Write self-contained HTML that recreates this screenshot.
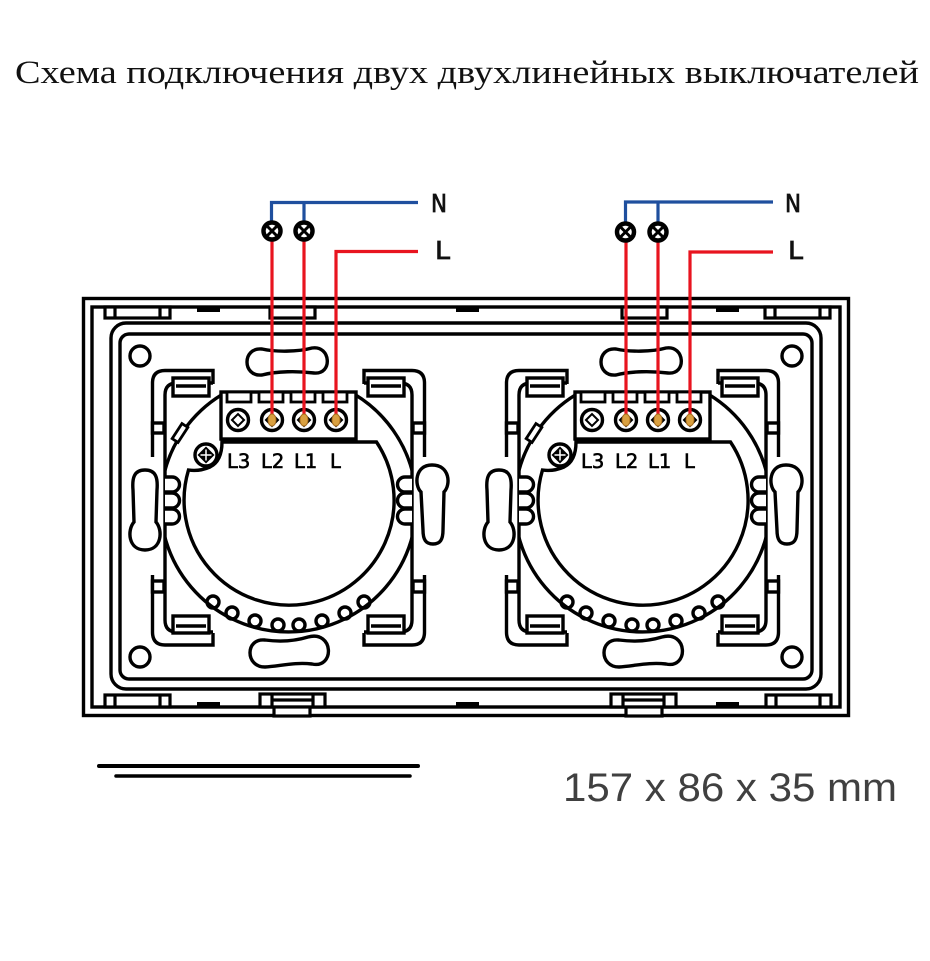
<!DOCTYPE html>
<html>
<head>
<meta charset="utf-8">
<style>
  html,body{margin:0;padding:0;background:#fff;}
  svg{display:block;}
</style>
</head>
<body>
<svg width="930" height="961" viewBox="0 0 930 961" xmlns="http://www.w3.org/2000/svg">
<defs>
  <clipPath id="rc"><rect x="165" y="300" width="247" height="400"/></clipPath>
  <g id="half" fill="#fff" stroke="#000" stroke-width="3.4">
    <path fill="none" d="M152.5 457 V383 Q152.5 370.5 165 370.5 H213 V384"/>
    <path fill="none" d="M152.5 575 V632 Q152.5 645 165 645 H213 V633"/>
    <path fill="none" d="M213 383 H177 Q165 383 165 395 V620 Q165 632 177 632 H213"/>
    <rect x="173" y="378" width="36" height="18"/>
    <line x1="176" y1="386" x2="206" y2="386"/>
    <rect x="173" y="616" width="36" height="17"/>
    <line x1="176" y1="626" x2="206" y2="626"/>
    <rect x="152.5" y="423" width="11.5" height="10"/>
    <rect x="152.5" y="581" width="11.5" height="11"/>
    <path d="M165 477 H172 A7.5 7.5 0 0 1 172 492 H165 M165 493 H172 A7.5 7.5 0 0 1 172 508 H165 M165 509 H172 A7.5 7.5 0 0 1 172 524 H165"/>
  </g>
  <g id="sw" stroke="#000" stroke-width="3.4" fill="#fff">
    <use href="#half"/>
    <use href="#half" transform="matrix(-1 0 0 1 577 0)"/>
    <!-- side slots -->
    <path d="M145 470 C156 470 158 478 157 490 L156 522 C163 530 162 550 145 550 C128 550 127 530 134 522 L133 490 C132 478 134 470 145 470 Z"/>
    <path d="M432 465 C450 465 451 485 444 492 L443 530 C443 540 440 544 433 544 C426 544 423 540 423 530 L421 492 C414 485 415 465 432 465 Z"/>
    <!-- bottom bumps -->
    <circle cx="213" cy="602" r="6"/>
    <circle cx="232" cy="613" r="6"/>
    <circle cx="255" cy="621" r="6"/>
    <circle cx="278" cy="625" r="6"/>
    <circle cx="299" cy="625" r="6"/>
    <circle cx="322" cy="621" r="6"/>
    <circle cx="345" cy="613" r="6"/>
    <circle cx="364" cy="602" r="6"/>
    <!-- outer ring -->
    <path fill="none" clip-path="url(#rc)" d="M355 394.6 A128 128 0 1 1 222 394.6"/>
    <!-- inner shape -->
    <path fill="none" d="M222 442 H376.5 A105 105 0 1 1 188.5 470 C195 471 203 470 210 467 C218 463 222 455 222 442 Z"/>
    <!-- slanted bar -->
    <rect x="-9" y="-3.5" width="18" height="7" stroke-width="2.8" transform="translate(180 433) rotate(-57)"/>
    <!-- small screw -->
    <circle cx="206" cy="455" r="11"/>
    <path d="M197.5 455 L206 446.5 L214.5 455 L206 463.5 Z" fill="#000" stroke="none"/>
    <path d="M206 449.5 V460.5 M200.5 455 H211.5" stroke="#fff" stroke-width="1.5"/>
    <!-- terminal block -->
    <rect x="221" y="392" width="135" height="47"/>
    <rect x="227" y="392" width="24" height="10" stroke-width="2.8"/>
    <rect x="259" y="392" width="24" height="10" stroke-width="2.8"/>
    <rect x="291" y="392" width="24" height="10" stroke-width="2.8"/>
    <rect x="323" y="392" width="24" height="10" stroke-width="2.8"/>
    <circle cx="238" cy="420" r="10.5"/>
    <circle cx="272" cy="420" r="10.5"/>
    <circle cx="304" cy="420" r="10.5"/>
    <circle cx="336" cy="420" r="10.5"/>
    <path fill="none" stroke-width="2" d="M232 420 L238 414 L244 420 L238 426 Z M266 420 L272 414 L278 420 L272 426 Z M298 420 L304 414 L310 420 L304 426 Z M330 420 L336 414 L342 420 L336 426 Z"/>
    <!-- pills -->
    <path d="M262 349 C275 352 298 352 312 348 C331 345 333 375 314 373 C298 371 277 371 262 375 C242 377 242 347 262 349 Z"/>
    <path d="M265 640 C280 642 295 641 308 637 C334 630 335 669 312 664 C295 662 280 666 265 667 C245 667 245 638 265 640 Z"/>
  </g>
</defs>

<!-- title -->
<text x="15" y="83" font-family="'Liberation Serif','DejaVu Serif',serif" font-size="33" fill="#111" textLength="904" lengthAdjust="spacingAndGlyphs">Схема подключения двух двухлинейных выключателей</text>

<!-- frame -->
<g fill="none" stroke="#000" stroke-width="3.4">
  <rect x="83.5" y="298.5" width="765" height="417"/>
  <rect x="92" y="307" width="748" height="400"/>
  <rect x="111" y="323" width="710" height="366" rx="15"/>
  <rect x="120" y="334" width="692" height="345" rx="9"/>
  <circle cx="140" cy="356" r="10"/>
  <circle cx="140" cy="657" r="10"/>
  <circle cx="792" cy="356" r="10"/>
  <circle cx="792" cy="657" r="10"/>
</g>
<g fill="#fff" stroke="#000" stroke-width="3.2">
  <!-- top tabs -->
  <rect x="105" y="307" width="65" height="11"/>
  <path d="M115 307 V318 M160 307 V318"/>
  <rect x="270" y="307" width="45" height="11"/>
  <rect x="622" y="307" width="45" height="11"/>
  <rect x="765" y="307" width="65" height="11"/>
  <path d="M775 307 V318 M820 307 V318"/>
  <!-- bottom tabs -->
  <rect x="105" y="695" width="65" height="12"/>
  <path d="M115 695 V707 M160 695 V707"/>
  <rect x="260" y="694" width="65" height="13"/>
  <path d="M272 694 V707 M313 694 V707 M272 700 H313"/>
  <rect x="274" y="707" width="36" height="9"/>
  <rect x="611" y="694" width="65" height="13"/>
  <path d="M623 694 V707 M664 694 V707 M623 700 H664"/>
  <rect x="626" y="707" width="36" height="9"/>
  <rect x="766" y="695" width="65" height="12"/>
  <path d="M776 695 V707 M820 695 V707"/>
</g>
<g fill="#000">
  <rect x="197" y="307" width="23" height="5"/>
  <rect x="456" y="307" width="23" height="5"/>
  <rect x="716" y="307" width="23" height="5"/>
  <rect x="197" y="702" width="23" height="5"/>
  <rect x="456" y="702" width="23" height="5"/>
  <rect x="716" y="702" width="23" height="5"/>
</g>

<!-- switches -->
<use href="#sw"/>
<use href="#sw" transform="translate(354 0)"/>

<!-- terminal labels -->
<g font-family="'DejaVu Sans','Liberation Sans',sans-serif" font-size="19.5" fill="#000" stroke="#000" stroke-width="0.6">
  <text x="227" y="468">L3</text>
  <text x="261" y="468">L2</text>
  <text x="294" y="468">L1</text>
  <text x="330" y="468">L</text>
  <text x="581" y="468">L3</text>
  <text x="615" y="468">L2</text>
  <text x="648" y="468">L1</text>
  <text x="684" y="468">L</text>
</g>

<!-- wiring -->
<g fill="none" stroke-width="3.2">
  <path stroke="#1f4f9e" d="M418 202.5 H271.5 V223 M304 202.5 V223"/>
  <path stroke="#1f4f9e" d="M773 202 H625.5 V223 M658 202 V223"/>
  <path stroke="#e8141f" d="M272 239 V418 M304 239 V418 M418 251.5 H336 V418"/>
  <path stroke="#e8141f" d="M626 240 V418 M658 240 V418 M773 252 H690 V418"/>
</g>
<!-- wire ends in screws -->
<g fill="#d9a040" stroke="#a86d1c" stroke-width="1">
  <ellipse cx="272" cy="420" rx="4" ry="6"/>
  <ellipse cx="304" cy="420" rx="4" ry="6"/>
  <ellipse cx="336" cy="420" rx="4" ry="6"/>
  <ellipse cx="626" cy="420" rx="4" ry="6"/>
  <ellipse cx="658" cy="420" rx="4" ry="6"/>
  <ellipse cx="690" cy="420" rx="4" ry="6"/>
</g>
<!-- lamps -->
<g fill="#fff" stroke="#000">
  <g stroke-width="4.5">
    <circle cx="272" cy="231" r="8.5"/>
    <circle cx="304" cy="231" r="8.5"/>
    <circle cx="625.5" cy="232" r="8.5"/>
    <circle cx="658" cy="232" r="8.5"/>
  </g>
  <path stroke-width="3" d="M267.5 226.5 L276.5 235.5 M276.5 226.5 L267.5 235.5 M299.5 226.5 L308.5 235.5 M308.5 226.5 L299.5 235.5 M621 227.5 L630 236.5 M630 227.5 L621 236.5 M653.5 227.5 L662.5 236.5 M662.5 227.5 L653.5 236.5"/>
</g>
<!-- N / L labels -->
<g font-family="'DejaVu Sans','Liberation Sans',sans-serif" font-size="25" fill="#111">
  <text x="431" y="212" textLength="16" lengthAdjust="spacingAndGlyphs" stroke="#111" stroke-width="0.8">N</text>
  <text x="435" y="259" textLength="15" lengthAdjust="spacingAndGlyphs" stroke="#111" stroke-width="0.8">L</text>
  <text x="785" y="212" textLength="16" lengthAdjust="spacingAndGlyphs" stroke="#111" stroke-width="0.8">N</text>
  <text x="788" y="259" textLength="15" lengthAdjust="spacingAndGlyphs" stroke="#111" stroke-width="0.8">L</text>
</g>

<!-- bottom lines -->
<g stroke="#000" stroke-linecap="round">
  <line x1="99" y1="766" x2="418" y2="766" stroke-width="4"/>
  <line x1="116" y1="776" x2="410" y2="776" stroke-width="3.5"/>
</g>

<!-- dimensions -->
<text x="563" y="801" font-family="'Liberation Sans','DejaVu Sans',sans-serif" font-size="40" fill="#404040" textLength="334" lengthAdjust="spacingAndGlyphs">157 x 86 x 35 mm</text>
</svg>
</body>
</html>
